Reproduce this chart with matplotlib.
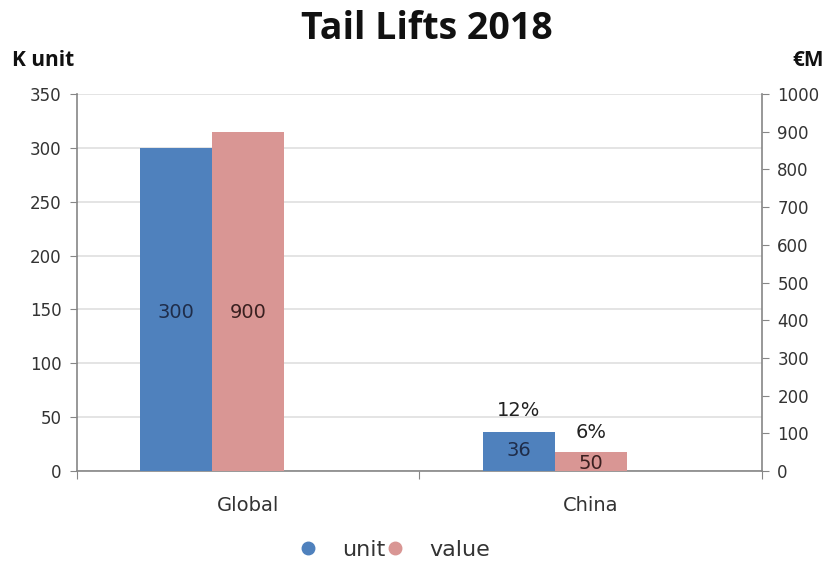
import matplotlib

matplotlib.use("Agg")
import matplotlib.pyplot as plt
from matplotlib.lines import Line2D

# 数据
categories = ["Global", "China"]
unit_values = [300, 36]        # K unit，左轴
value_values = [900, 50]       # €M，右轴
unit_share = ["", "12%"]
value_share = ["", "6%"]
left_ticks = [0, 50, 100, 150, 200, 250, 300, 350]
right_ticks = [0, 100, 200, 300, 400, 500, 600, 700, 800, 900, 1000]

blue = "#4F81BD"
pink = "#D99694"
axis_gray = "#868686"
grid_gray = "#DCDCDC"

plt.rcParams["font.family"] = ["DejaVu Sans"]

fig = plt.figure(figsize=(8.39, 5.64), dpi=100)
ax = fig.add_axes([0.0918, 0.1649, 0.8164, 0.6684])
ax2 = ax.twinx()

x = list(range(len(categories)))
width = 0.21
x_unit = [i - 0.21 for i in x]
x_value = [i for i in x]

ax.bar(x_unit, unit_values, width=width, color=blue, zorder=3)
ax2.bar(x_value, value_values, width=width, color=pink, zorder=3)

ax.set_xlim(-0.5, 1.5)
ax.set_ylim(0, 350)
ax2.set_ylim(0, 1000)
ax.set_yticks(left_ticks)
ax2.set_yticks(right_ticks)

ax.yaxis.grid(True, color=grid_gray, linewidth=1.1)
ax.set_axisbelow(True)

for a in (ax, ax2):
    a.spines["top"].set_visible(False)
    for s in ("left", "right", "bottom"):
        a.spines[s].set_color(axis_gray)
        a.spines[s].set_linewidth(1.2)
ax.spines["right"].set_visible(False)
ax2.spines["left"].set_visible(False)
ax2.spines["bottom"].set_visible(False)

ax.tick_params(axis="y", colors="#333333", labelsize=12, length=5, color=axis_gray, pad=6)
ax2.tick_params(axis="y", colors="#333333", labelsize=12, length=5, color=axis_gray, pad=6)

# x 轴：分类标签居中，刻度在分类边界
ax.set_xticks([-0.5, 0.5, 1.5])
ax.set_xticklabels(["", "", ""])
ax.tick_params(axis="x", length=6, color=axis_gray)
ax.set_xticks(x, minor=True)
ax.set_xticklabels(categories, minor=True)
ax.tick_params(axis="x", which="minor", length=0, labelsize=14, pad=18, colors="#333333")

# 柱内数值（居中）与占比（柱顶上方）
for xi, v in zip(x_unit, unit_values):
    ax.text(xi, v / 2 - 3 if v > 100 else v / 2 + 1, str(v), ha="center", va="center",
            fontsize=14, color="#1F2D4A", zorder=5)
for xi, v in zip(x_value, value_values):
    ax2.text(xi, 147 / 350 * 1000 if v > 100 else v / 2 - 4, str(v), ha="center", va="center",
             fontsize=14, color="#3A2020", zorder=5)
for xi, v, s in zip(x_unit, unit_values, unit_share):
    if s:
        ax.text(xi, v + 11, s, ha="center", va="bottom", fontsize=14, color="#222222")
for xi, v, s in zip(x_value, value_values, value_share):
    if s:
        ax2.text(xi, v + 28, s, ha="center", va="bottom", fontsize=14, color="#222222")

fig.text(0.509, 0.948, "Tail Lifts 2018", ha="center", va="center",
         fontsize=27, fontweight="bold", family=["Open Sans"], color="#111111")
fig.text(0.014, 0.893, "K unit", ha="left", va="center", fontsize=15,
         fontweight="bold", family=["Open Sans"], color="#111111")
fig.text(0.982, 0.893, "€M", ha="right", va="center", fontsize=15,
         fontweight="bold", family=["Open Sans"], color="#111111")

handles = [
    Line2D([], [], marker="o", linestyle="", markersize=9, color=blue),
    Line2D([], [], marker="o", linestyle="", markersize=9, color=pink),
]
fig.legend(handles, ["unit", "value"], loc="center", bbox_to_anchor=(0.469, 0.025),
           ncol=2, frameon=False, fontsize=16, handletextpad=1.05, columnspacing=-0.1,
           handlelength=1.0, labelcolor="#333333")

fig.savefig("out.png", dpi=100, facecolor="white")
